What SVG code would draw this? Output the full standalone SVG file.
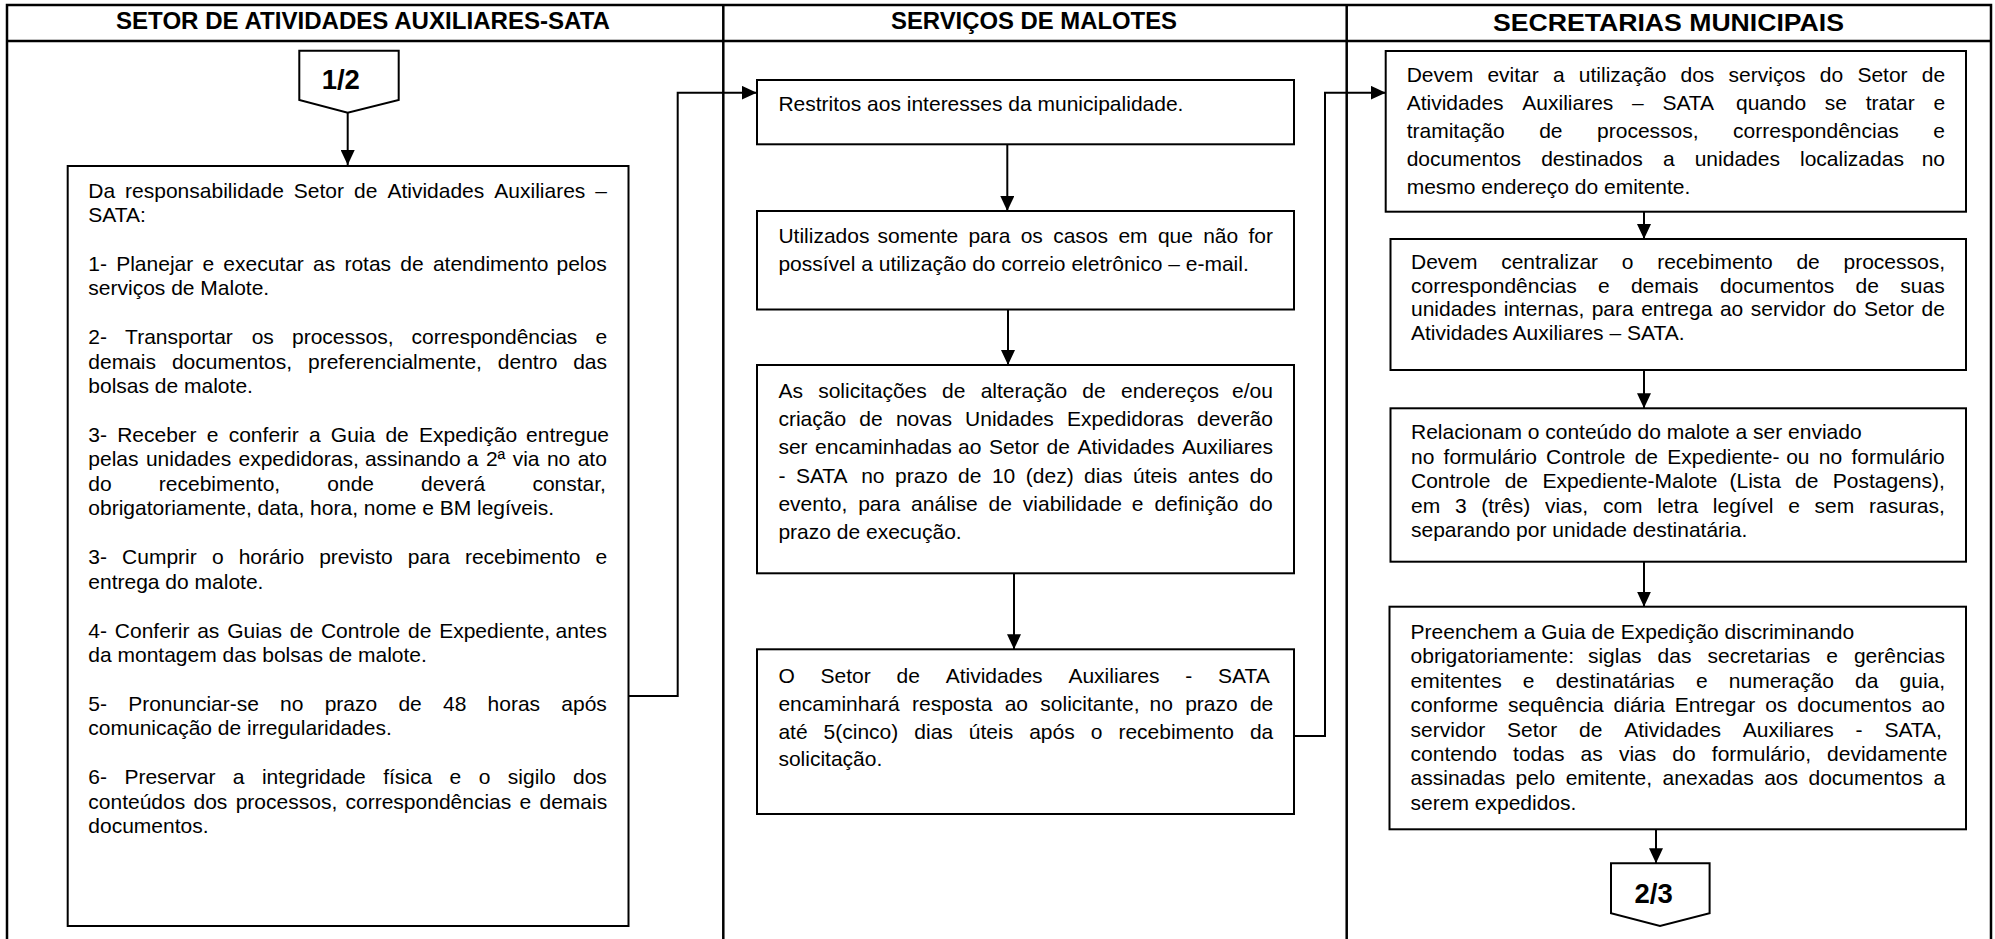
<svg xmlns="http://www.w3.org/2000/svg" width="1995" height="939" viewBox="0 0 1995 939">
<style>
.t{font-family:"Liberation Sans",Arial,sans-serif;font-size:21px;fill:#000}
.h{font-family:"Liberation Sans",Arial,sans-serif;font-weight:bold;font-size:23px;fill:#000}
.n{font-family:"Liberation Sans",Arial,sans-serif;font-weight:bold;font-size:27.5px;fill:#000}
.box{fill:#fff;stroke:#000;stroke-width:2}
.frame{fill:none;stroke:#000;stroke-width:2.5}
.ln{fill:none;stroke:#000;stroke-width:2}
</style>
<defs>
<marker id="ah" markerUnits="userSpaceOnUse" markerWidth="16" markerHeight="14" refX="15" refY="7" orient="auto"><path d="M0,0 L15,7 L0,14 z" fill="#000"/></marker>
</defs>
<rect width="1995" height="939" fill="#fff"/>
<g id="lanes">
<path class="frame" d="M7,939 V5 H1991 V939 M7,41 H1991 M723.3,5 V939 M1346.7,5 V939"/>
<text class="h" x="116" y="28.5" textLength="494" lengthAdjust="spacingAndGlyphs">SETOR DE ATIVIDADES AUXILIARES-SATA</text>
<text class="h" x="891" y="28.5" textLength="286" lengthAdjust="spacingAndGlyphs">SERVIÇOS DE MALOTES</text>
<text class="h" x="1493" y="30.5" style="font-size:24.5px" textLength="351" lengthAdjust="spacingAndGlyphs">SECRETARIAS MUNICIPAIS</text>
</g>
<g id="connectors">
<path class="ln" d="M347.7,112.7 V165" marker-end="url(#ah)"/>
<path class="ln" d="M628.5,696 H677.7 V92.7 H756.7" marker-end="url(#ah)"/>
<path class="ln" d="M1007.3,144.3 V211" marker-end="url(#ah)"/>
<path class="ln" d="M1008,309.5 V365" marker-end="url(#ah)"/>
<path class="ln" d="M1014,573.3 V649.3" marker-end="url(#ah)"/>
<path class="ln" d="M1294,736 H1325 V92.7 H1385.7" marker-end="url(#ah)"/>
<path class="ln" d="M1644,211.7 V239" marker-end="url(#ah)"/>
<path class="ln" d="M1644,370 V408.3" marker-end="url(#ah)"/>
<path class="ln" d="M1644,561.7 V606.7" marker-end="url(#ah)"/>
<path class="ln" d="M1656,829.3 V863.3" marker-end="url(#ah)"/>
</g>
<g id="off-1-2">
<path class="box" d="M299.3,50.7 H398.7 V100 L347.7,112.7 L299.3,100 Z"/>
<text class="n" x="321.7" y="89.3">1/2</text>
</g>
<g id="sata-resp">
<rect class="box" x="67.7" y="166" width="560.8" height="760"/>
<text class="t" y="197.5"><tspan x="88.3">Da</tspan><tspan x="125.1">responsabilidade</tspan><tspan x="293.8">Setor</tspan><tspan x="354">de</tspan><tspan x="387.4">Atividades</tspan><tspan x="494.3">Auxiliares</tspan><tspan x="595.3">–</tspan></text>
<text class="t" x="88.3" y="221.95">SATA:</text>
<text class="t" y="270.85"><tspan x="88.3">1-</tspan><tspan x="116.2">Planejar</tspan><tspan x="202.4">e</tspan><tspan x="223.3">executar</tspan><tspan x="313">as</tspan><tspan x="344.4">rotas</tspan><tspan x="400.3">de</tspan><tspan x="432.9">atendimento</tspan><tspan x="556.5">pelos</tspan></text>
<text class="t" x="88.3" y="295.3">serviços de Malote.</text>
<text class="t" y="344.2"><tspan x="88.3">2-</tspan><tspan x="125.1">Transportar</tspan><tspan x="251.7">os</tspan><tspan x="292">processos,</tspan><tspan x="411.6">correspondências</tspan><tspan x="595.4">e</tspan></text>
<text class="t" y="368.65"><tspan x="88.3">demais</tspan><tspan x="171.9">documentos,</tspan><tspan x="308">preferencialmente,</tspan><tspan x="497.8">dentro</tspan><tspan x="573.2">das</tspan></text>
<text class="t" x="88.3" y="393.1">bolsas de malote.</text>
<text class="t" y="442"><tspan x="88.3">3-</tspan><tspan x="117.2">Receber</tspan><tspan x="206.8">e</tspan><tspan x="228.7">conferir</tspan><tspan x="308.9">a</tspan><tspan x="330.8">Guia</tspan><tspan x="385.4">de</tspan><tspan x="419">Expedição</tspan><tspan x="526.1">entregue</tspan></text>
<text class="t" y="466.45"><tspan x="88.3">pelas</tspan><tspan x="145.9">unidades</tspan><tspan x="238.5">expedidoras,</tspan><tspan x="364.9">assinando</tspan><tspan x="466.8">a</tspan><tspan x="485.9">2ª</tspan><tspan x="512.7">via</tspan><tspan x="546.9">no</tspan><tspan x="577.7">ato</tspan></text>
<text class="t" y="490.9"><tspan x="88.3">do</tspan><tspan x="158.8">recebimento,</tspan><tspan x="327.3">onde</tspan><tspan x="421.1">deverá</tspan><tspan x="532.4">constar,</tspan></text>
<text class="t" x="88.3" y="515.35">obrigatoriamente, data, hora, nome e BM legíveis.</text>
<text class="t" y="564.25"><tspan x="88.3">3-</tspan><tspan x="122.1">Cumprir</tspan><tspan x="211.9">o</tspan><tspan x="238.7">horário</tspan><tspan x="319.2">previsto</tspan><tspan x="407.8">para</tspan><tspan x="464.9">recebimento</tspan><tspan x="595.5">e</tspan></text>
<text class="t" x="88.3" y="588.7">entrega do malote.</text>
<text class="t" y="637.6"><tspan x="88.3">4-</tspan><tspan x="114.8">Conferir</tspan><tspan x="197.2">as</tspan><tspan x="227.2">Guias</tspan><tspan x="289.8">de</tspan><tspan x="320.9">Controle</tspan><tspan x="408.1">de</tspan><tspan x="439.2">Expediente,</tspan><tspan x="555.6">antes</tspan></text>
<text class="t" x="88.3" y="662.05">da montagem das bolsas de malote.</text>
<text class="t" y="710.95"><tspan x="88.3">5-</tspan><tspan x="128.2">Pronunciar-se</tspan><tspan x="280.1">no</tspan><tspan x="324.7">prazo</tspan><tspan x="398.4">de</tspan><tspan x="443">48</tspan><tspan x="487.6">horas</tspan><tspan x="561.3">após</tspan></text>
<text class="t" x="88.3" y="735.4">comunicação de irregularidades.</text>
<text class="t" y="784.3"><tspan x="88.3">6-</tspan><tspan x="124.4">Preservar</tspan><tspan x="232.8">a</tspan><tspan x="261.9">integridade</tspan><tspan x="383.2">física</tspan><tspan x="449.6">e</tspan><tspan x="478.7">o</tspan><tspan x="507.8">sigilo</tspan><tspan x="573">dos</tspan></text>
<text class="t" y="808.75"><tspan x="88.3">conteúdos</tspan><tspan x="193.5">dos</tspan><tspan x="235.7">processos,</tspan><tspan x="345.5">correspondências</tspan><tspan x="519.5">e</tspan><tspan x="539.5">demais</tspan></text>
<text class="t" x="88.3" y="833.2">documentos.</text>
</g>
<g id="malote-1">
<rect class="box" x="757" y="80" width="537" height="64.3"/>
<text class="t" x="778.4" y="111">Restritos aos interesses da municipalidade.</text>
</g>
<g id="malote-2">
<rect class="box" x="757" y="211" width="537" height="98.5"/>
<text class="t" y="243"><tspan x="778.4">Utilizados</tspan><tspan x="877.6">somente</tspan><tspan x="968.4">para</tspan><tspan x="1020.7">os</tspan><tspan x="1053.2">casos</tspan><tspan x="1118.4">em</tspan><tspan x="1157.9">que</tspan><tspan x="1203.2">não</tspan><tspan x="1248.5">for</tspan></text>
<text class="t" x="778.4" y="271">possível a utilização do correio eletrônico – e-mail.</text>
</g>
<g id="malote-3">
<rect class="box" x="757" y="365" width="537" height="208.3"/>
<text class="t" y="397.5"><tspan x="778.4">As</tspan><tspan x="818.2">solicitações</tspan><tspan x="942">de</tspan><tspan x="980.7">alteração</tspan><tspan x="1082.3">de</tspan><tspan x="1121">endereços</tspan><tspan x="1232">e/ou</tspan></text>
<text class="t" y="425.8"><tspan x="778.4">criação</tspan><tspan x="859.3">de</tspan><tspan x="895.9">novas</tspan><tspan x="965.1">Unidades</tspan><tspan x="1067">Expedidoras</tspan><tspan x="1197">deverão</tspan></text>
<text class="t" y="454.2"><tspan x="778.4">ser</tspan><tspan x="815.1">encaminhadas</tspan><tspan x="958">ao</tspan><tspan x="988.9">Setor</tspan><tspan x="1046.6">de</tspan><tspan x="1077.5">Atividades</tspan><tspan x="1181.9">Auxiliares</tspan></text>
<text class="t" y="482.5"><tspan x="778.4">-</tspan><tspan x="795.9">SATA</tspan><tspan x="861.2">no</tspan><tspan x="895.1">prazo</tspan><tspan x="958.1">de</tspan><tspan x="991.9">10</tspan><tspan x="1025.8">(dez)</tspan><tspan x="1084.1">dias</tspan><tspan x="1133">úteis</tspan><tspan x="1187.9">antes</tspan><tspan x="1249.7">do</tspan></text>
<text class="t" y="510.8"><tspan x="778.4">evento,</tspan><tspan x="858.2">para</tspan><tspan x="911.1">análise</tspan><tspan x="988.5">de</tspan><tspan x="1022.8">viabilidade</tspan><tspan x="1131.8">e</tspan><tspan x="1154.4">definição</tspan><tspan x="1249.3">do</tspan></text>
<text class="t" x="778.4" y="539.2">prazo de execução.</text>
</g>
<g id="malote-4">
<rect class="box" x="757" y="649.3" width="537" height="164.7"/>
<text class="t" y="682.5"><tspan x="778.4">O</tspan><tspan x="820.5">Setor</tspan><tspan x="896.5">de</tspan><tspan x="945.7">Atividades</tspan><tspan x="1068.4">Auxiliares</tspan><tspan x="1185.2">-</tspan><tspan x="1218">SATA</tspan></text>
<text class="t" y="710.8"><tspan x="778.4">encaminhará</tspan><tspan x="912">resposta</tspan><tspan x="1004.7">ao</tspan><tspan x="1040.3">solicitante,</tspan><tspan x="1149.6">no</tspan><tspan x="1185.2">prazo</tspan><tspan x="1249.9">de</tspan></text>
<text class="t" y="738.5"><tspan x="778.4">até</tspan><tspan x="823.6">5(cinco)</tspan><tspan x="914.3">dias</tspan><tspan x="968.8">úteis</tspan><tspan x="1029.2">após</tspan><tspan x="1090.7">o</tspan><tspan x="1118.4">recebimento</tspan><tspan x="1249.9">da</tspan></text>
<text class="t" x="778.4" y="765.8">solicitação.</text>
</g>
<g id="sec-1">
<rect class="box" x="1385.7" y="51" width="580.3" height="160.7"/>
<text class="t" y="82"><tspan x="1406.7">Devem</tspan><tspan x="1487.4">evitar</tspan><tspan x="1552.9">a</tspan><tspan x="1578.8">utilização</tspan><tspan x="1680.5">dos</tspan><tspan x="1728.6">serviços</tspan><tspan x="1819.8">do</tspan><tspan x="1857.4">Setor</tspan><tspan x="1921.8">de</tspan></text>
<text class="t" y="110"><tspan x="1406.7">Atividades</tspan><tspan x="1522.3">Auxiliares</tspan><tspan x="1632">–</tspan><tspan x="1662.4">SATA</tspan><tspan x="1736">quando</tspan><tspan x="1824.8">se</tspan><tspan x="1865.7">tratar</tspan><tspan x="1933.4">e</tspan></text>
<text class="t" y="138"><tspan x="1406.7">tramitação</tspan><tspan x="1539.2">de</tspan><tspan x="1597.1">processos,</tspan><tspan x="1733.1">correspondências</tspan><tspan x="1933.3">e</tspan></text>
<text class="t" y="166"><tspan x="1406.7">documentos</tspan><tspan x="1541.2">destinados</tspan><tspan x="1662.9">a</tspan><tspan x="1694.7">unidades</tspan><tspan x="1800">localizadas</tspan><tspan x="1921.7">no</tspan></text>
<text class="t" x="1406.7" y="194">mesmo endereço do emitente.</text>
</g>
<g id="sec-2">
<rect class="box" x="1390.5" y="239" width="575.5" height="131"/>
<text class="t" y="269.3"><tspan x="1411">Devem</tspan><tspan x="1501.2">centralizar</tspan><tspan x="1621.8">o</tspan><tspan x="1657.2">recebimento</tspan><tspan x="1796.4">de</tspan><tspan x="1843.5">processos,</tspan></text>
<text class="t" y="292.8"><tspan x="1411">correspondências</tspan><tspan x="1598">e</tspan><tspan x="1630.9">demais</tspan><tspan x="1719.9">documentos</tspan><tspan x="1855.6">de</tspan><tspan x="1900.3">suas</tspan></text>
<text class="t" y="316.3"><tspan x="1411">unidades</tspan><tspan x="1503.7">internas,</tspan><tspan x="1591.7">para</tspan><tspan x="1641.2">entrega</tspan><tspan x="1719.9">ao</tspan><tspan x="1750.8">servidor</tspan><tspan x="1833">do</tspan><tspan x="1863.9">Setor</tspan><tspan x="1921.6">de</tspan></text>
<text class="t" x="1411" y="339.8">Atividades Auxiliares – SATA.</text>
</g>
<g id="sec-3">
<rect class="box" x="1390.5" y="408.3" width="575.5" height="153.4"/>
<text class="t" x="1411" y="439">Relacionam o conteúdo do malote a ser enviado</text>
<text class="t" y="463.5"><tspan x="1411">no</tspan><tspan x="1443.6">formulário</tspan><tspan x="1546.1">Controle</tspan><tspan x="1634.7">de</tspan><tspan x="1667.3">Expediente-</tspan><tspan x="1786.2">ou</tspan><tspan x="1818.8">no</tspan><tspan x="1851.4">formulário</tspan></text>
<text class="t" y="488"><tspan x="1411">Controle</tspan><tspan x="1504.7">de</tspan><tspan x="1542.4">Expediente-Malote</tspan><tspan x="1729.5">(Lista</tspan><tspan x="1795.1">de</tspan><tspan x="1832.8">Postagens),</tspan></text>
<text class="t" y="512.5"><tspan x="1411">em</tspan><tspan x="1454.9">3</tspan><tspan x="1481.3">(três)</tspan><tspan x="1545">vias,</tspan><tspan x="1602.9">com</tspan><tspan x="1657.3">letra</tspan><tspan x="1712.8">legível</tspan><tspan x="1788.2">e</tspan><tspan x="1814.6">sem</tspan><tspan x="1869">rasuras,</tspan></text>
<text class="t" x="1411" y="537">separando por unidade destinatária.</text>
</g>
<g id="sec-4">
<rect class="box" x="1389.5" y="606.7" width="576.5" height="222.6"/>
<text class="t" x="1410.6" y="639">Preenchem a Guia de Expedição discriminando</text>
<text class="t" y="663.4"><tspan x="1410.6">obrigatoriamente:</tspan><tspan x="1587.9">siglas</tspan><tspan x="1657.6">das</tspan><tspan x="1707.5">secretarias</tspan><tspan x="1826.2">e</tspan><tspan x="1853.9">gerências</tspan></text>
<text class="t" y="687.8"><tspan x="1410.6">emitentes</tspan><tspan x="1522.8">e</tspan><tspan x="1555.7">destinatárias</tspan><tspan x="1695.9">e</tspan><tspan x="1728.8">numeração</tspan><tspan x="1855">da</tspan><tspan x="1899.6">guia,</tspan></text>
<text class="t" y="712.2"><tspan x="1410.6">conforme</tspan><tspan x="1508">sequência</tspan><tspan x="1613.6">diária</tspan><tspan x="1674.8">Entregar</tspan><tspan x="1765.2">os</tspan><tspan x="1797.3">documentos</tspan><tspan x="1921.6">ao</tspan></text>
<text class="t" y="736.6"><tspan x="1410.6">servidor</tspan><tspan x="1507.1">Setor</tspan><tspan x="1579">de</tspan><tspan x="1624.2">Atividades</tspan><tspan x="1742.8">Auxiliares</tspan><tspan x="1855.6">-</tspan><tspan x="1884.4">SATA,</tspan></text>
<text class="t" y="761"><tspan x="1410.6">contendo</tspan><tspan x="1513.1">todas</tspan><tspan x="1580.6">as</tspan><tspan x="1618.9">vias</tspan><tspan x="1672.3">do</tspan><tspan x="1711.8">formulário,</tspan><tspan x="1827.1">devidamente</tspan></text>
<text class="t" y="785.4"><tspan x="1410.6">assinadas</tspan><tspan x="1515.6">pelo</tspan><tspan x="1565.7">emitente,</tspan><tspan x="1662.6">anexadas</tspan><tspan x="1764.2">aos</tspan><tspan x="1808.5">documentos</tspan><tspan x="1933.4">a</tspan></text>
<text class="t" x="1410.6" y="809.8">serem expedidos.</text>
</g>
<g id="off-2-3">
<path class="box" d="M1611,863.3 H1709.6 V913.3 L1660,926 L1611,913.3 Z"/>
<text class="n" x="1634.5" y="903.3">2/3</text>
</g>
</svg>
